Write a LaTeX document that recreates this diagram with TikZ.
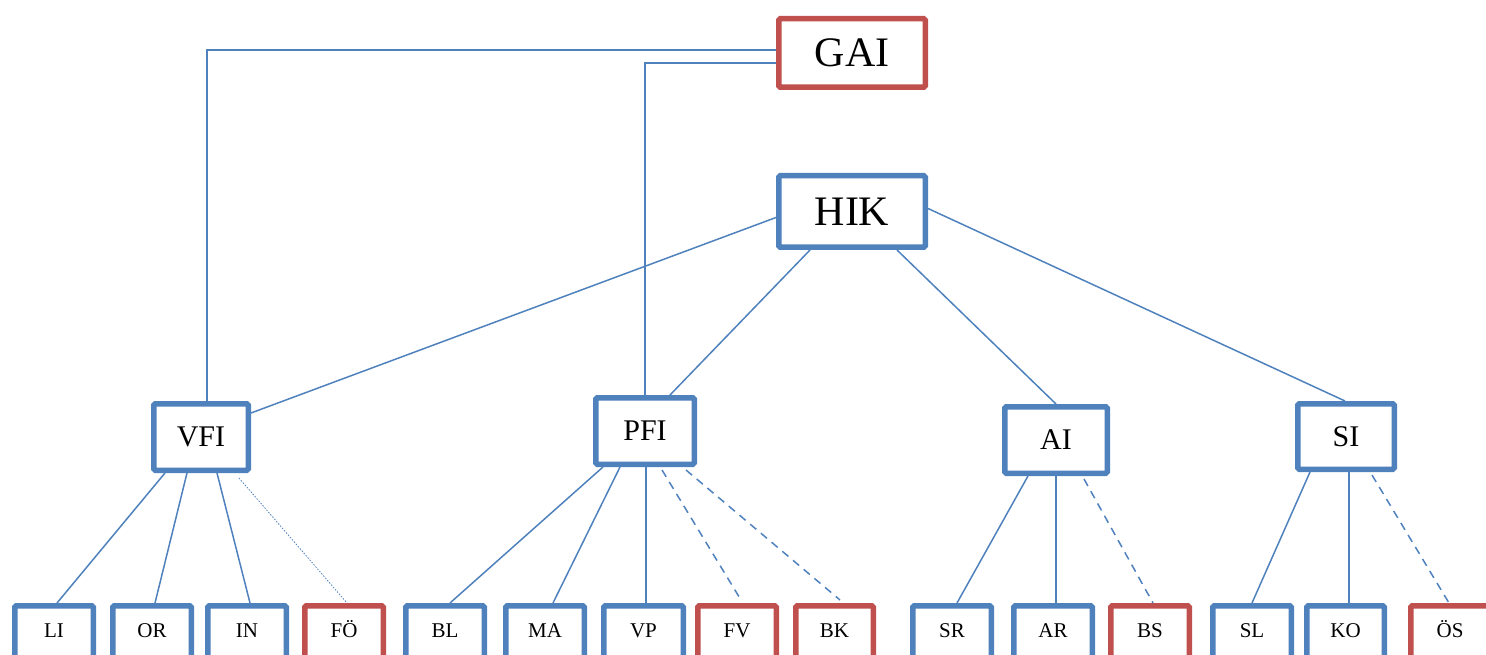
\documentclass[tikz,border=0pt]{standalone}
\usepackage{fontspec}
\setmainfont{Liberation Serif}
\definecolor{bblue}{HTML}{4F81BD}
\definecolor{bred}{HTML}{C0504D}
\begin{document}
\begin{tikzpicture}[x=1pt,y=-1pt,
  box/.style={draw=bblue,line width=5.5pt,rounded corners=1.5pt,fill=white,inner sep=0pt,text=black},
  redbox/.style={box,draw=bred},
  top/.style={minimum width=146.5pt,font=\fontsize{42}{42}\selectfont},
  mid/.style={minimum height=66.5pt,font=\fontsize{30}{30}\selectfont},
  leaf/.style={minimum width=78.5pt,minimum height=52.5pt,text height=14pt,text depth=4pt,font=\fontsize{21}{21}\selectfont},
  link/.style={draw=bblue,line width=1.5pt},
  dlink/.style={link,dash pattern=on 8pt off 6pt},
  olink/.style={draw=bblue,line width=0.8pt,dash pattern=on 1.5pt off 1.5pt}]
\useasboundingbox (0,0) rectangle (1486,655);
\clip (0,0) rectangle (1486,655);
% top
\node[redbox,top,minimum height=68.5pt] (GAI) at (852,53) {GAI};
\node[box,top,minimum height=71.5pt] (HIK) at (852,211.5) {HIK};
% middle
\node[box,mid,minimum width=94.5pt] (VFI) at (201,437) {VFI};
\node[box,mid,minimum width=98.5pt] (PFI) at (645,431) {PFI};
\node[box,mid,minimum width=102.5pt] (AI) at (1056,440) {AI};
\node[box,mid,minimum width=96.5pt,minimum height=65.5pt] (SI) at (1346,436.5) {SI};
% leaves
\node[box,leaf] (LI) at (54,632) {LI};
\node[box,leaf] (OR) at (152,632) {OR};
\node[box,leaf] (IN) at (247,632) {IN};
\node[redbox,leaf] (FO) at (344,632) {FÖ};
\node[box,leaf] (BL) at (445,632) {BL};
\node[box,leaf] (MA) at (545,632) {MA};
\node[box,leaf,minimum width=79.5pt] (VP) at (643.5,632) {VP};
\node[redbox,leaf] (FV) at (737,632) {FV};
\node[redbox,leaf,minimum width=77.5pt] (BK) at (834.5,632) {BK};
\node[box,leaf] (SR) at (952,632) {SR};
\node[box,leaf] (AR) at (1053,632) {AR};
\node[redbox,leaf] (BS) at (1150,632) {BS};
\node[box,leaf] (SL) at (1252,632) {SL};
\node[box,leaf,minimum width=77.5pt] (KO) at (1345.5,632) {KO};
\node[redbox,leaf] (OS) at (1450,632) {ÖS};
% GAI links
\draw[link] ([yshift=3pt]GAI.west) -| ([xshift=6pt]VFI.north);
\draw[link] ([yshift=-10pt]GAI.west) -| (PFI.north);
% HIK links
\draw[link] ([yshift=-6pt]HIK.west) -- ([yshift=24pt]VFI.east);
\draw[link] ([xshift=-42pt]HIK.south) -- ([xshift=25pt]PFI.north);
\draw[link] ([xshift=45pt]HIK.south) -- (AI.north);
\draw[link] ([yshift=3pt]HIK.east) -- ([xshift=-1pt]SI.north);
% VFI children
\draw[link] ([xshift=-36pt]VFI.south) -- ([xshift=3pt]LI.north);
\draw[link] ([xshift=-14pt]VFI.south) -- ([xshift=3pt]OR.north);
\draw[link] ([xshift=16pt]VFI.south) -- ([xshift=3pt]IN.north);
\draw[olink] ([xshift=38pt,yshift=-5pt]VFI.south) -- ([xshift=3pt]FO.north);
% PFI children
\draw[link] ([xshift=-42pt]PFI.south) -- ([xshift=5pt]BL.north);
\draw[link] ([xshift=-25pt]PFI.south) -- ([xshift=8pt]MA.north);
\draw[link] ([xshift=1pt]PFI.south) -- ([xshift=2.5pt]VP.north);
\draw[dlink] ([xshift=17pt,yshift=-3pt]PFI.south) -- ([xshift=4pt,yshift=3pt]FV.north);
\draw[dlink] ([xshift=41pt,yshift=-3pt]PFI.south) -- ([xshift=5.5pt,yshift=3pt]BK.north);
% AI children
\draw[link] ([xshift=-28pt]AI.south) -- ([xshift=5pt]SR.north);
\draw[link] (AI.south) -- ([xshift=3pt]AR.north);
\draw[dlink] ([xshift=28pt,yshift=-3pt]AI.south) -- ([xshift=3pt]BS.north);
% SI children
\draw[link] ([xshift=-36pt]SI.south) -- (SL.north);
\draw[link] ([xshift=3pt]SI.south) -- ([xshift=3.5pt]KO.north);
\draw[dlink] ([xshift=26pt,yshift=-3pt]SI.south) -- ([xshift=-1pt]OS.north);
\end{tikzpicture}
\end{document}
